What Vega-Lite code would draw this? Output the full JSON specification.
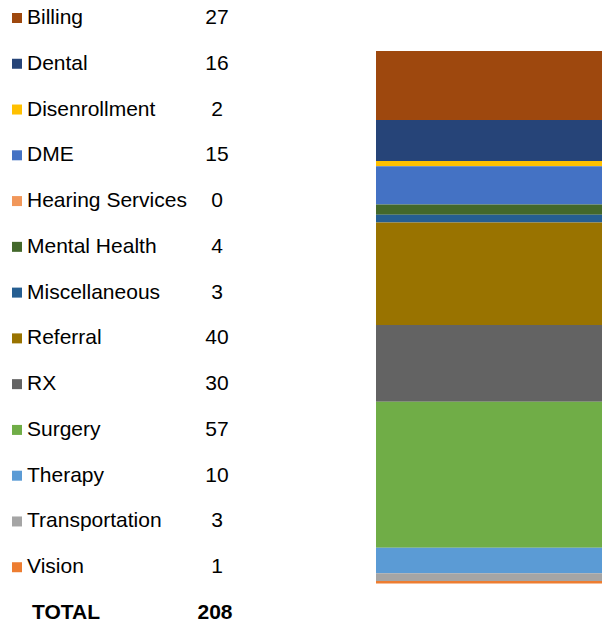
{
  "$schema": "https://vega.github.io/schema/vega-lite/v6.json",
  "padding": 0,
  "background": "white",
  "config": {"view": {"stroke": null}, "concat": {"spacing": 0}},
  "datasets": {
    "cats": [
      {"label": "Billing", "count": 27, "row": 0},
      {"label": "Dental", "count": 16, "row": 1},
      {"label": "Disenrollment", "count": 2, "row": 2},
      {"label": "DME", "count": 15, "row": 3},
      {"label": "Hearing Services", "count": 0, "row": 4},
      {"label": "Mental Health", "count": 4, "row": 5},
      {"label": "Miscellaneous", "count": 3, "row": 6},
      {"label": "Referral", "count": 40, "row": 7},
      {"label": "RX", "count": 30, "row": 8},
      {"label": "Surgery", "count": 57, "row": 9},
      {"label": "Therapy", "count": 10, "row": 10},
      {"label": "Transportation", "count": 3, "row": 11},
      {"label": "Vision", "count": 1, "row": 12}
    ],
    "total": [{"label": "TOTAL", "count": 208, "row": 13}]
  },
  "resolve": {"scale": {"y": "independent", "x": "independent"}},
  "hconcat": [
    {
      "width": 376,
      "height": 632,
      "layer": [
        {
          "data": {"name": "cats"},
          "mark": {"type": "square", "size": 100, "opacity": 1},
          "encoding": {
            "x": {"datum": 17, "type": "quantitative", "scale": {"domain": [0, 376], "nice": false, "zero": false}, "axis": null},
            "y": {"field": "row", "type": "quantitative", "scale": {"domain": [-0.393, 13.415], "nice": false, "zero": false, "reverse": true}, "axis": null},
            "color": {
              "field": "label", "type": "nominal", "legend": null,
              "scale": {
                "domain": ["Billing", "Dental", "Disenrollment", "DME", "Hearing Services", "Mental Health", "Miscellaneous", "Referral", "RX", "Surgery", "Therapy", "Transportation", "Vision"],
                "range": ["#9E480E", "#264478", "#FFC000", "#4472C4", "#F1975A", "#43682B", "#255E91", "#997300", "#636363", "#70AD47", "#5B9BD5", "#A5A5A5", "#ED7D31"]
              }
            }
          }
        },
        {
          "data": {"name": "cats"},
          "mark": {"type": "text", "align": "left", "baseline": "middle", "font": "Liberation Sans", "fontSize": 21, "color": "#000000"},
          "encoding": {
            "x": {"datum": 27, "type": "quantitative"},
            "y": {"field": "row", "type": "quantitative"},
            "text": {"field": "label"}
          }
        },
        {
          "data": {"name": "cats"},
          "mark": {"type": "text", "align": "center", "baseline": "middle", "font": "Liberation Sans", "fontSize": 21, "color": "#000000"},
          "encoding": {
            "x": {"datum": 217, "type": "quantitative"},
            "y": {"field": "row", "type": "quantitative"},
            "text": {"field": "count"}
          }
        },
        {
          "data": {"name": "total"},
          "mark": {"type": "text", "align": "left", "baseline": "middle", "font": "Liberation Sans", "fontSize": 21, "fontWeight": "bold", "color": "#000000"},
          "encoding": {
            "x": {"datum": 32, "type": "quantitative"},
            "y": {"field": "row", "type": "quantitative"},
            "text": {"field": "label"}
          }
        },
        {
          "data": {"name": "total"},
          "mark": {"type": "text", "align": "center", "baseline": "middle", "font": "Liberation Sans", "fontSize": 21, "fontWeight": "bold", "color": "#000000"},
          "encoding": {
            "x": {"datum": 215, "type": "quantitative"},
            "y": {"field": "row", "type": "quantitative"},
            "text": {"field": "count"}
          }
        }
      ]
    },
    {
      "width": 226,
      "height": 632,
      "data": {"name": "cats"},
      "mark": {"type": "bar", "stroke": null},
      "encoding": {
        "x": {"datum": "all", "type": "nominal", "scale": {"paddingInner": 0, "paddingOuter": 0}, "axis": null},
        "y": {"field": "count", "type": "quantitative", "stack": "zero", "scale": {"domain": [-18.95, 227.9], "nice": false, "zero": false}, "axis": null},
        "order": {"field": "row", "type": "quantitative", "sort": "descending"},
        "color": {"field": "label", "type": "nominal", "legend": null}
      }
    }
  ]
}
